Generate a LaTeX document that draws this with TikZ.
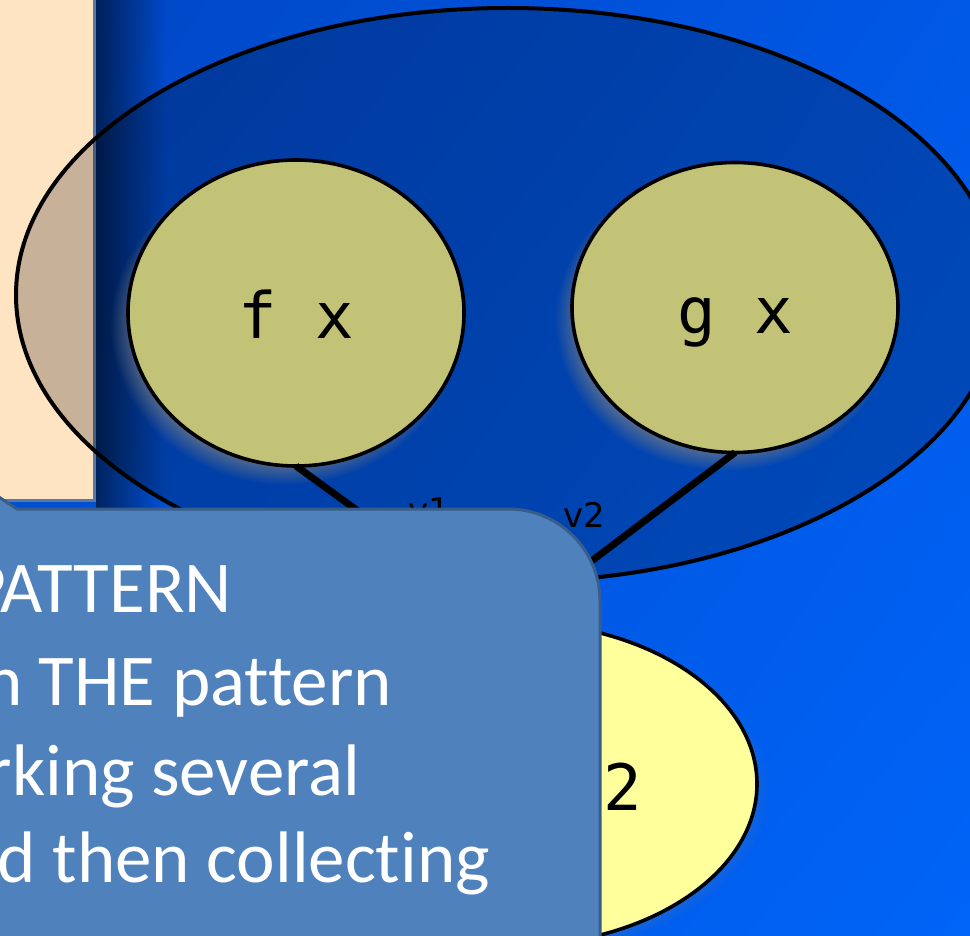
\documentclass[tikz,border=0pt]{standalone}
\usepackage{fontspec}
\setmainfont[Ligatures=NoCommon]{Carlito}
\newfontfamily\termfont{DejaVu Sans Mono}
\newfontfamily\labelfont{DejaVu Sans}
\usepackage{xcolor}
\usetikzlibrary{positioning, shapes.geometric, shadows, fadings, shadings}

\definecolor{bgTL}{RGB}{0,70,195}
\definecolor{bgTR}{RGB}{0,88,230}
\definecolor{bgBL}{RGB}{0,85,220}
\definecolor{bgBR}{RGB}{0,100,248}
\definecolor{peach}{RGB}{255,228,196}
\definecolor{peachline}{RGB}{90,120,165}
\definecolor{termfill}{RGB}{195,195,120}
\definecolor{resfill}{RGB}{255,255,155}
\definecolor{callfill}{RGB}{79,129,189}
\definecolor{callline}{RGB}{56,93,138}

\begin{document}
\begin{tikzpicture}[
		x=0.5pt, y=-0.5pt,                 % 1 Einheit = 1 Pixel, y nach unten
		every node/.style={inner sep=0pt, outer sep=0pt},
		term/.style={
			draw,
			ellipse,
			line width=1.8pt,
			fill=termfill,
			minimum width=163pt,
			minimum height=145pt,
			font=\termfont\fontsize{32}{38}\selectfont,
			text height=26pt, text depth=0pt,
			circular drop shadow={shadow xshift=-5pt, shadow yshift=-6pt, shadow scale=1.04, opacity=0.7}},
		group/.style={
			draw,
			ellipse,
			line width=2pt,
			fill=black, fill opacity=0.22,
			minimum width=492pt,
			minimum height=287pt},
		result/.style={
			draw,
			ellipse,
			line width=1.8pt,
			fill=resfill,
			minimum width=246pt,
			minimum height=162pt,
			circular drop shadow={shadow xshift=3pt, shadow yshift=-3pt, shadow scale=1.02, opacity=0.4}},
		vlabel/.style={font=\labelfont\fontsize{17}{20}\selectfont, anchor=base},
		calltext/.style={font=\fontsize{36.5}{44}\selectfont, text=white, anchor=base east}
	]
	\useasboundingbox (0,0) rectangle (970,936);
	
	% 0. Hintergrund
	\shade[upper left=bgTL, upper right=bgTR, lower left=bgBL, lower right=bgBR] (0,0) rectangle (970,936);
	\fill[black, opacity=0.55, path fading=east] (96,0) rectangle (165,936);
	\draw[fill=peach, draw=peachline, line width=1.5pt] (-10,-10) rectangle (94,500);
	
	% 1. Gruppe
	\node[group] (grp) at (508,295) {};
	
	% 2. Terme
	\node[term, minimum width=168pt, minimum height=153pt] (fx) at (296,313) {f x};
	\node[term] (gx) [right=54pt of fx, yshift=2.75pt] {g x};
	
	% 3. Ergebnis
	\node[result] (res) at (511,784) {};
	\node[font=\termfont\fontsize{32}{38}\selectfont, anchor=base west] (two) at (603,810) {2};
	
	% Kanten
	\draw[line width=3.5pt]
	(fx.south) -- (res.north)
	(gx.south) -- (res.north);
	\node[vlabel] (v1) at (429,523) {v1};
	\node[vlabel] (v2) at (584,527) {v2};
	
	% 4. Sprechblase
	\draw[fill=callfill, draw=callline, line width=1.5pt]
	(-60,458) -- (17,509) -- (508,509)
	.. controls (559,509) and (600,550) .. (600,601)
	-- (600,960) -- (-60,960) -- cycle;
	\node[calltext] (c1) at (232,612) {PATTERN};
	\node[calltext] (c2) at (392,705) {n THE pattern};
	\node[calltext] (c3) at (360,795) {rking several};
	\node[calltext] (c4) at (490,882) {d then collecting};
	
\end{tikzpicture}
\end{document}
